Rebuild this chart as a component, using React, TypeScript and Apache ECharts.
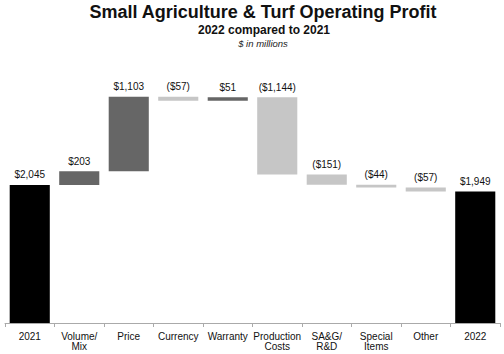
import React, { useEffect, useRef } from "react";
import * as echarts from "echarts";

const categories = ["2021", "Volume/\nMix", "Price", "Currency", "Warranty", "Production\nCosts", "SA&G/\nR&D", "Special\nItems", "Other", "2022"];
const changes = [2045, 203, 1103, -57, 51, -1144, -151, -44, -57, 1949];
const isTotal = [true, false, false, false, false, false, false, false, false, true];
const valueLabels = ["$2,045", "$203", "$1,103", "($57)", "$51", "($1,144)", "($151)", "($44)", "($57)", "$1,949"];

const FONT = "'Liberation Sans', Arial, sans-serif";

export default function App() {
  const ref = useRef<HTMLDivElement>(null);
  useEffect(() => {
    if (!ref.current) return;
    const chart = echarts.init(ref.current, null, { renderer: "svg" });
    const base: number[] = [];
    const totals: (number | string)[] = [];
    const ups: (number | string)[] = [];
    const downs: (number | string)[] = [];
    let run = 0;
    changes.forEach((v, i) => {
      if (isTotal[i]) {
        base.push(0);
        totals.push(v);
        ups.push("-");
        downs.push("-");
        run = v;
      } else if (v >= 0) {
        base.push(run);
        totals.push("-");
        ups.push(v);
        downs.push("-");
        run += v;
      } else {
        run += v;
        base.push(run);
        totals.push("-");
        ups.push("-");
        downs.push(-v);
      }
    });
    const label = {
      show: true,
      position: "top",
      distance: 5,
      color: "#111",
      fontSize: 10,
      fontFamily: FONT,
      formatter: (p: any) => valueLabels[p.dataIndex],
    };
    chart.setOption({
      animation: false,
      backgroundColor: "#fff",
      textStyle: { fontFamily: FONT },
      graphic: [
        { type: "text", x: 263, y: 3, style: { text: "Small Agriculture & Turf Operating Profit", font: `bold 18px ${FONT}`, fill: "#111", align: "center", verticalAlign: "top" } },
        { type: "text", x: 264, y: 24, style: { text: "2022 compared to 2021", font: `bold 12px ${FONT}`, fill: "#111", align: "center", verticalAlign: "top" } },
        { type: "text", x: 263, y: 38, style: { text: "$ in millions", font: `italic 9.5px ${FONT}`, fill: "#222", align: "center", verticalAlign: "top" } },
      ],
      grid: { left: 5, right: 4, top: 53, bottom: 31, containLabel: false },
      xAxis: {
        type: "category",
        data: categories,
        axisLine: { lineStyle: { color: "#aaa", width: 1 } },
        axisTick: { show: true, length: 4, lineStyle: { color: "#aaa" } },
        axisLabel: { color: "#111", fontSize: 10, fontFamily: FONT, margin: 8, lineHeight: 10.5, interval: 0 },
      },
      yAxis: { type: "value", min: 0, max: 4000, show: false, splitLine: { show: false } },
      series: [
        { type: "bar", stack: "w", data: base, itemStyle: { color: "transparent" }, barCategoryGap: "19%", silent: true },
        { type: "bar", stack: "w", data: totals, itemStyle: { color: "#000" }, label },
        { type: "bar", stack: "w", data: ups, itemStyle: { color: "#666" }, label },
        { type: "bar", stack: "w", data: downs, itemStyle: { color: "#c6c6c6" }, label },
      ],
    });
    return () => chart.dispose();
  }, []);
  return <div ref={ref} style={{ width: 504, height: 354, position: "absolute", left: 0, top: 0 }} />;
}
